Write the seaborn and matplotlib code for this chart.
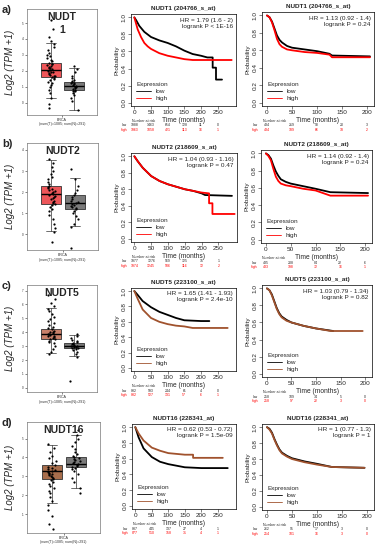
import numpy as np
import pandas as pd
import matplotlib
matplotlib.use("Agg")
import matplotlib.pyplot as plt
import matplotlib.transforms as mtrans
import seaborn as sns

# ---- box plot data (Log2(TPM+1), tumor vs normal) ----
# box stats: [lower whisker, q1, median, q3, upper whisker]
nudt1_tumor_box = [0.27, 1.60, 2.06, 2.48, 3.74]
nudt1_normal_box = [-0.46, 0.76, 1.05, 1.32, 2.16]
nudt2_tumor_box = [0.13, 1.44, 1.90, 2.27, 3.50]
nudt2_normal_box = [0.37, 1.20, 1.50, 1.84, 2.67]
nudt5_tumor_box = [2.52, 3.51, 3.90, 4.24, 5.73]
nudt5_normal_box = [2.29, 2.87, 3.03, 3.21, 3.78]
nudt16_tumor_box = [1.58, 2.84, 3.28, 3.60, 4.65]
nudt16_normal_box = [2.37, 3.47, 3.68, 4.04, 5.18]

nudt1_tumor_pts = [5.2, 4.6, 4.1, 3.9, 3.7, 3.5, 3.3, 3.1, 3.0, 2.9, 2.8, 2.7, 2.6, 2.5, 2.45,
                   2.4, 2.35, 2.3, 2.25, 2.2, 2.15, 2.1, 2.05, 2.0, 1.95, 1.9, 1.85, 1.8, 1.75,
                   1.7, 1.65, 1.6, 1.55, 1.5, 1.4, 1.3, 1.2, 1.1, 1.0, 0.8, 0.6, 0.3, -0.1, -0.36]
nudt1_normal_pts = [2.3, 2.1, 1.9, 1.7, 1.55, 1.45, 1.35, 1.3, 1.25, 1.2, 1.15, 1.1, 1.05, 1.0,
                    0.95, 0.9, 0.85, 0.8, 0.75, 0.7, 0.6, 0.5, 0.3, 0.1, -0.46]
nudt2_tumor_pts = [3.55, 3.4, 3.2, 3.0, 2.85, 2.7, 2.6, 2.5, 2.4, 2.3, 2.25, 2.2, 2.15, 2.1, 2.05,
                   2.0, 1.95, 1.9, 1.85, 1.8, 1.75, 1.7, 1.65, 1.6, 1.55, 1.5, 1.45, 1.4, 1.3,
                   1.2, 1.1, 0.9, 0.7, 0.5, 0.3, 0.1, -0.35]
nudt2_normal_pts = [3.1, 2.6, 2.3, 2.1, 1.95, 1.85, 1.75, 1.65, 1.6, 1.55, 1.5, 1.45, 1.4, 1.35,
                    1.3, 1.25, 1.2, 1.1, 1.0, 0.85, 0.7, 0.5, 0.35, -0.67]
nudt5_tumor_pts = [6.65, 6.4, 6.1, 5.9, 5.7, 5.5, 5.3, 5.1, 4.95, 4.8, 4.65, 4.5, 4.4, 4.3, 4.2,
                   4.1, 4.05, 4.0, 3.95, 3.9, 3.85, 3.8, 3.75, 3.7, 3.65, 3.6, 3.55, 3.5, 3.4,
                   3.3, 3.2, 3.0, 2.8, 2.6, 2.45]
nudt5_normal_pts = [3.9, 3.75, 3.6, 3.45, 3.35, 3.28, 3.22, 3.18, 3.12, 3.08, 3.04, 3.0, 2.96,
                    2.92, 2.88, 2.84, 2.8, 2.7, 2.55, 2.4, 2.25, 0.46]
nudt16_tumor_pts = [4.7, 4.5, 4.3, 4.1, 3.95, 3.8, 3.7, 3.6, 3.5, 3.45, 3.4, 3.35, 3.3, 3.25,
                    3.2, 3.15, 3.1, 3.05, 3.0, 2.95, 2.9, 2.85, 2.8, 2.7, 2.6, 2.5, 2.4, 2.25,
                    2.1, 1.9, 1.7, 1.5, 1.2, 0.9, 0.5, 0.21]
nudt16_normal_pts = [5.44, 5.2, 5.0, 4.8, 4.6, 4.45, 4.3, 4.2, 4.1, 4.0, 3.95, 3.9, 3.85, 3.8,
                     3.75, 3.7, 3.65, 3.6, 3.55, 3.5, 3.45, 3.4, 3.3, 3.1, 2.9, 2.7, 2.4, 2.1]

# ---- Kaplan-Meier curves ----
a1_low_t = [0, 5, 15, 30, 50, 75, 100, 125, 150, 175, 200, 219, 235, 235, 245, 245, 263]
a1_low_s = [1.0, 0.97, 0.90, 0.83, 0.77, 0.73, 0.70, 0.66, 0.61, 0.57, 0.55, 0.53, 0.53, 0.41, 0.41, 0.27, 0.27]
a1_high_t = [0, 5, 10, 20, 30, 40, 50, 75, 100, 125, 150, 175, 200, 292]
a1_high_s = [1.0, 0.93, 0.86, 0.77, 0.70, 0.66, 0.63, 0.58, 0.55, 0.53, 0.51, 0.50, 0.50, 0.50]
a2_low_t = [0, 5, 10, 15, 20, 25, 30, 40, 50, 75, 100, 125, 130, 206]
a2_low_s = [1.0, 0.98, 0.93, 0.85, 0.77, 0.72, 0.69, 0.65, 0.63, 0.61, 0.59, 0.56, 0.54, 0.53]
a2_high_t = [0, 5, 10, 15, 20, 25, 30, 40, 50, 75, 100, 125, 130, 206]
a2_high_s = [1.0, 0.98, 0.92, 0.83, 0.73, 0.67, 0.64, 0.61, 0.60, 0.58, 0.57, 0.55, 0.52, 0.52]

b1_low_t = [0, 10, 25, 50, 75, 100, 125, 150, 175, 200, 210, 290]
b1_low_s = [1.0, 0.94, 0.86, 0.76, 0.70, 0.66, 0.63, 0.60, 0.58, 0.55, 0.53, 0.52]
b1_high_t = [0, 10, 25, 50, 75, 100, 125, 150, 175, 200, 222, 222, 232, 232, 298]
b1_high_s = [1.0, 0.94, 0.86, 0.76, 0.70, 0.66, 0.63, 0.60, 0.58, 0.56, 0.55, 0.43, 0.43, 0.30, 0.30]
b2_low_t = [0, 5, 10, 15, 20, 25, 30, 40, 50, 75, 100, 130, 206]
b2_low_s = [1.0, 0.98, 0.94, 0.86, 0.79, 0.74, 0.70, 0.67, 0.65, 0.62, 0.59, 0.55, 0.54]
b2_high_t = [0, 5, 10, 15, 20, 25, 30, 40, 50, 75, 100, 130, 206]
b2_high_s = [1.0, 0.97, 0.92, 0.82, 0.73, 0.68, 0.65, 0.63, 0.62, 0.59, 0.57, 0.51, 0.51]

c1_low_t = [0, 10, 25, 50, 75, 100, 125, 150, 200, 225]
c1_low_s = [1.0, 0.95, 0.87, 0.79, 0.73, 0.69, 0.65, 0.62, 0.61, 0.61]
c1_high_t = [0, 10, 25, 50, 75, 100, 125, 150, 175, 280]
c1_high_s = [1.0, 0.90, 0.76, 0.65, 0.60, 0.57, 0.55, 0.54, 0.52, 0.52]
c2_low_t = [0, 5, 10, 15, 20, 25, 30, 40, 50, 75, 100, 135]
c2_low_s = [1.0, 0.98, 0.93, 0.85, 0.77, 0.71, 0.67, 0.63, 0.60, 0.56, 0.53, 0.50]
c2_high_t = [0, 5, 10, 15, 20, 25, 30, 40, 50, 75, 100, 130, 195]
c2_high_s = [1.0, 0.98, 0.92, 0.84, 0.76, 0.70, 0.66, 0.62, 0.60, 0.56, 0.53, 0.50, 0.50]

d1_low_t = [0, 10, 25, 50, 75, 100, 125, 150, 200, 280]
d1_low_s = [1.0, 0.87, 0.73, 0.62, 0.56, 0.53, 0.51, 0.49, 0.48, 0.48]
d1_high_t = [0, 10, 25, 50, 75, 100, 125, 150, 175, 175, 265]
d1_high_s = [1.0, 0.92, 0.83, 0.74, 0.70, 0.67, 0.66, 0.65, 0.65, 0.61, 0.61]
d2_low_t = [0, 5, 10, 15, 20, 25, 30, 40, 50, 75, 100, 130, 195]
d2_low_s = [1.0, 0.98, 0.93, 0.85, 0.78, 0.72, 0.68, 0.64, 0.61, 0.57, 0.54, 0.50, 0.49]
d2_high_t = [0, 5, 10, 15, 20, 25, 30, 40, 50, 75, 100, 130, 195]
d2_high_s = [1.0, 0.97, 0.92, 0.84, 0.77, 0.71, 0.67, 0.63, 0.60, 0.56, 0.53, 0.50, 0.49]

# numbers at risk
a1_risk_low = [1988, 1463, 654, 128, 11, 0]
a1_risk_high = [1963, 1058, 421, 113, 16, 1]
a2_risk_low = [434, 219, 90, 20, 3]
a2_risk_high = [434, 189, 66, 18, 2]
b1_risk_low = [1977, 1276, 569, 125, 15, 1]
b1_risk_high = [1974, 1245, 506, 116, 12, 2]
b2_risk_low = [435, 208, 84, 22, 6]
b2_risk_high = [433, 198, 72, 16, 1]
c1_risk_low = [882, 593, 244, 61, 4, 0]
c1_risk_high = [882, 527, 131, 57, 6, 1]
c2_risk_low = [258, 109, 34, 5, 0]
c2_risk_high = [258, 97, 22, 3, 0]
d1_risk_low = [887, 445, 137, 27, 4, 1]
d1_risk_high = [877, 510, 158, 31, 4, 1]
d2_risk_low = [262, 95, 17, 3, 0]
d2_risk_high = [254, 101, 16, 3, 0]

mid_ticks = [0, 50, 100, 150, 200, 250]
right_ticks = [0, 50, 100, 150, 200]

W, H = 378, 550
sns.set_style("white")
plt.rcParams["font.family"] = ["Liberation Sans", "DejaVu Sans"]
np.random.seed(3)

fig = plt.figure(figsize=(3.78, 5.5), dpi=100)


def rect(x0, y0, x1, y1):
    return [x0 / W, 1 - y1 / H, (x1 - x0) / W, (y1 - y0) / H]


def ftext(x, y, s, **kw):
    fig.text(x / W, 1 - y / H, s, **kw)


def draw_box(px, letter, title, tbox, nbox, tpts, npts, tcolor, ylim, yticks):
    x0, y0, x1, y1 = px
    ax = fig.add_axes(rect(*px))
    stats = [dict(whislo=b[0], q1=b[1], med=b[2], q3=b[3], whishi=b[4], fliers=[])
             for b in (tbox, nbox)]
    bp = ax.bxp(stats, positions=[0, 1], widths=0.85, patch_artist=True, showfliers=False,
                boxprops=dict(linewidth=0.6, edgecolor="#333333"),
                whiskerprops=dict(linewidth=0.5, color="#333333"),
                capprops=dict(linewidth=0.5, color="#333333"),
                medianprops=dict(linewidth=1.0, color="black", zorder=4))
    for patch, c in zip(bp["boxes"], [tcolor, "#7a7a7a"]):
        patch.set_facecolor(c)
        patch.set_zorder(1)
    df = pd.DataFrame({"group": ["Tumor"] * len(tpts) + ["Normal"] * len(npts),
                       "value": tpts + npts})
    sns.stripplot(data=df, x="group", y="value", order=["Tumor", "Normal"], color="black",
                  size=1.6, jitter=0.17, ax=ax, zorder=3)
    ax.set_xlim(-1.04, 2.0)
    ax.set_ylim(*ylim)
    ax.set_yticks(yticks)
    ax.set_yticklabels([str(v) for v in yticks])
    ax.tick_params(axis="y", labelsize=2.2, length=1.5, width=0.4, pad=1, left=True)
    ax.set_xticks([0.5])
    ax.set_xticklabels([""])
    ax.tick_params(axis="x", length=1.5, width=0.4, bottom=True)
    ax.set_xlabel("")
    ax.set_ylabel("Log2 (TPM +1)", fontsize=7, style="italic")
    ax.yaxis.set_label_coords((15 - x0) / (x1 - x0), 0.5)
    for s in ax.spines.values():
        s.set_linewidth(0.5)
        s.set_color("#777777")
    ax.text(0.5, 0.97, title, transform=ax.transAxes, ha="center", va="top",
            fontsize=7.5, fontweight="bold", linespacing=1.3)
    cx = (x0 + x1) / 2
    ftext(cx, y1 + 5, "BRCA", fontsize=2.6, ha="center", va="center", color="#333333")
    ftext(cx, y1 + 9.5, "(num(T)=1085; num(N)=291)", fontsize=2.6, ha="center",
          va="center", color="#333333")
    ftext(7, y0 + 1, letter, fontsize=8, fontweight="bold", ha="center", va="center")


def draw_km(px, title, hr, t_low, s_low, t_high, s_high, r_low, r_high, ticks, xlim,
            high_color):
    x0, y0, x1, y1 = px
    ax = fig.add_axes(rect(*px))
    df = pd.concat([
        pd.DataFrame({"time": t_low, "surv": s_low, "Expression": "low"}),
        pd.DataFrame({"time": t_high, "surv": s_high, "Expression": "high"}),
    ])
    sns.lineplot(data=df, x="time", y="surv", hue="Expression", hue_order=["low", "high"],
                 palette={"low": "black", "high": high_color}, estimator=None, sort=False,
                 linewidth=1.3, ax=ax)
    ax.set_xlim(*xlim)
    ax.set_ylim(-0.04, 1.04)
    ax.set_xticks(ticks)
    ax.set_yticks([0, 0.2, 0.4, 0.6, 0.8, 1.0])
    ax.set_yticklabels(["0.0", "0.2", "0.4", "0.6", "0.8", "1.0"], rotation=90, va="center")
    ax.tick_params(labelsize=4.6, length=2, width=0.4, pad=1, left=True, bottom=True)
    ax.set_xlabel("Time (months)", fontsize=4.8, labelpad=1)
    ax.set_ylabel("Probability", fontsize=4.6, labelpad=1.5)
    for s in ax.spines.values():
        s.set_linewidth(0.5)
        s.set_color("black")
    ax.set_title(title, fontsize=4.6, fontweight="bold", pad=3)
    ax.text(0.97, 0.96, hr, transform=ax.transAxes, ha="right", va="top", fontsize=4.6,
            linespacing=1.25)
    leg = ax.legend(title="Expression", loc="lower left", frameon=False, fontsize=4.6,
                    title_fontsize=4.6, handlelength=2.4, borderaxespad=0.4,
                    labelspacing=0.2, handletextpad=0.6)
    leg._legend_box.align = "left"
    for ln in leg.get_lines():
        ln.set_linewidth(0.6)
    tr = mtrans.blended_transform_factory(ax.transData, fig.transFigure)
    ftext(x0 + 1, y1 + 15, "Number at risk", fontsize=2.5, ha="left", va="center")
    ftext(x0 - 4, y1 + 19.5, "low", fontsize=2.5, ha="right", va="center")
    ftext(x0 - 4, y1 + 24, "high", fontsize=2.5, ha="right", va="center", color="red")
    for t, lo, hi in zip(ticks, r_low, r_high):
        ax.text(t, 1 - (y1 + 19.5) / H, str(lo), transform=tr, fontsize=2.5, ha="center",
                va="center")
        ax.text(t, 1 - (y1 + 24) / H, str(hi), transform=tr, fontsize=2.5, ha="center",
                va="center", color="red")


mid_xlim = (-10, 305)
right_xlim = (-10, 214)
brown = "#a0522d"

# row a
draw_box((27, 9, 97, 115), "a)", "NUDT\n1", nudt1_tumor_box, nudt1_normal_box,
         nudt1_tumor_pts, nudt1_normal_pts, "#ef5558", (-0.78, 5.88), [0, 1, 2, 3, 4, 5])
draw_km((131, 14, 236, 106), "NUDT1 (204766_s_at)", "HR = 1.79 (1.6 - 2)\nlogrank P < 1E-16",
        a1_low_t, a1_low_s, a1_high_t, a1_high_s, a1_risk_low, a1_risk_high, mid_ticks,
        mid_xlim, "red")
draw_km((262, 12, 374, 106), "NUDT1 (204766_s_at)", "HR = 1.13 (0.92 - 1.4)\nlogrank P = 0.24",
        a2_low_t, a2_low_s, a2_high_t, a2_high_s, a2_risk_low, a2_risk_high, right_ticks,
        right_xlim, "red")

# row b
draw_box((27, 143, 98, 250), "b)", "NUDT2", nudt2_tumor_box, nudt2_normal_box,
         nudt2_tumor_pts, nudt2_normal_pts, "#ec5659", (-0.75, 4.33), [0, 1, 2, 3, 4])
draw_km((131, 153, 237, 242), "NUDT2 (218609_s_at)", "HR = 1.04 (0.93 - 1.16)\nlogrank P = 0.47",
        b1_low_t, b1_low_s, b1_high_t, b1_high_s, b1_risk_low, b1_risk_high, mid_ticks,
        mid_xlim, "red")
draw_km((261, 150, 372, 243), "NUDT2 (218609_s_at)", "HR = 1.14 (0.92 - 1.4)\nlogrank P = 0.24",
        b2_low_t, b2_low_s, b2_high_t, b2_high_s, b2_risk_low, b2_risk_high, right_ticks,
        right_xlim, "red")

# row c
draw_box((27, 285, 97, 392), "c)", "NUDT5", nudt5_tumor_box, nudt5_normal_box,
         nudt5_tumor_pts, nudt5_normal_pts, "#c8806a", (-0.3, 7.4), [0, 1, 2, 3, 4, 5, 6, 7])
draw_km((131, 288, 236, 371), "NUDT5 (223100_s_at)", "HR = 1.65 (1.41 - 1.93)\nlogrank P = 2.4e-10",
        c1_low_t, c1_low_s, c1_high_t, c1_high_s, c1_risk_low, c1_risk_high, mid_ticks,
        mid_xlim, brown)
draw_km((262, 285, 372, 377), "NUDT5 (223100_s_at)", "HR = 1.03 (0.79 - 1.34)\nlogrank P = 0.82",
        c2_low_t, c2_low_s, c2_high_t, c2_high_s, c2_risk_low, c2_risk_high, right_ticks,
        right_xlim, brown)

# row d
draw_box((27, 422, 100, 533), "d)", "NUDT16", nudt16_tumor_box, nudt16_normal_box,
         nudt16_tumor_pts, nudt16_normal_pts, "#a86e4c", (0, 5.88), [1, 2, 3, 4, 5])
draw_km((132, 424, 236, 509), "NUDT16 (228341_at)", "HR = 0.62 (0.53 - 0.72)\nlogrank P = 1.5e-09",
        d1_low_t, d1_low_s, d1_high_t, d1_high_s, d1_risk_low, d1_risk_high, mid_ticks,
        mid_xlim, brown)
draw_km((262, 424, 374, 510), "NUDT16 (228341_at)", "HR = 1 (0.77 - 1.3)\nlogrank P = 1",
        d2_low_t, d2_low_s, d2_high_t, d2_high_s, d2_risk_low, d2_risk_high, right_ticks,
        right_xlim, brown)

fig.savefig("out.png", dpi=100)
